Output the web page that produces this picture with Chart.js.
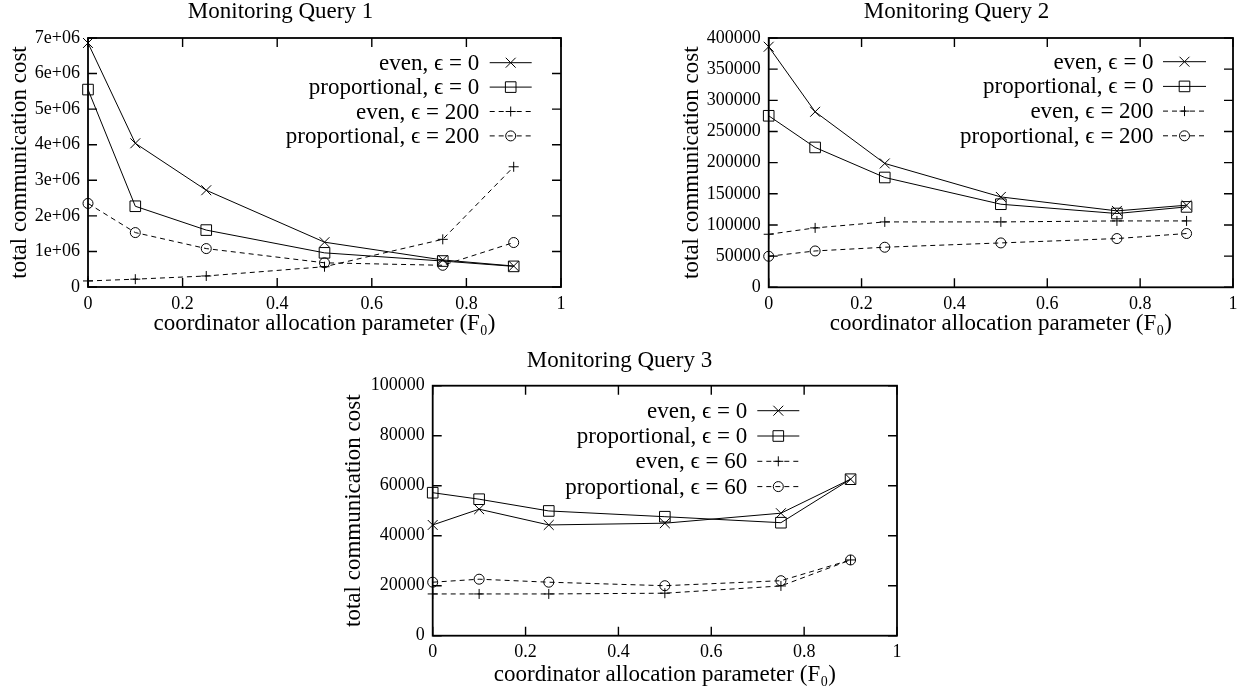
<!DOCTYPE html>
<html>
<head>
<meta charset="utf-8">
<script src="https://cdn.jsdelivr.net/npm/chart.js@4.4.1/dist/chart.umd.min.js"></script>
<style>
html, body { margin: 0; padding: 0; background: #ffffff; }
body { width: 1246px; height: 689px; position: relative; overflow: hidden; }
.box { position: absolute; }
</style>
</head>
<body>
<div class="box" id="b1" style="left:0px;top:0px;width:620px;height:345px;"><canvas id="c1"></canvas></div>
<div class="box" id="b2" style="left:680px;top:0px;width:566px;height:345px;"><canvas id="c2"></canvas></div>
<div class="box" id="b3" style="left:342px;top:340px;width:600px;height:349px;"><canvas id="c3"></canvas></div>
<script>
// ---------- data ----------
const xValues = [0, 0.1, 0.25, 0.5, 0.75, 0.9];
const xTickValues = [0, 0.2, 0.4, 0.6, 0.8, 1];

const q1Title = 'Monitoring Query 1';
const q1EvenEps0 = [6860000, 4040000, 2720000, 1260000, 760000, 590000];
const q1PropEps0 = [5550000, 2270000, 1600000, 960000, 730000, 580000];
const q1EvenEps200 = [170000, 220000, 310000, 570000, 1340000, 3380000];
const q1PropEps200 = [2350000, 1530000, 1080000, 680000, 610000, 1250000];
const q1Labels = ['even, \u03F5 = 0', 'proportional, \u03F5 = 0', 'even, \u03F5 = 200', 'proportional, \u03F5 = 200'];
const q1YTicks = [0, 1000000, 2000000, 3000000, 4000000, 5000000, 6000000, 7000000];

const q2Title = 'Monitoring Query 2';
const q2EvenEps0 = [386000, 281600, 198700, 145000, 122600, 131700];
const q2PropEps0 = [275200, 224400, 176200, 133300, 118400, 129000];
const q2EvenEps200 = [85100, 95300, 104900, 104900, 106500, 106500];
const q2PropEps200 = [49800, 58300, 64300, 71200, 78200, 86300];
const q2Labels = ['even, \u03F5 = 0', 'proportional, \u03F5 = 0', 'even, \u03F5 = 200', 'proportional, \u03F5 = 200'];
const q2YTicks = [0, 50000, 100000, 150000, 200000, 250000, 300000, 350000, 400000];

const q3Title = 'Monitoring Query 3';
const q3EvenEps0 = [44300, 50600, 44300, 45000, 49000, 62600];
const q3PropEps0 = [57200, 54600, 49900, 47600, 45200, 62600];
const q3EvenEps60 = [16700, 16700, 16700, 17000, 19900, 30300];
const q3PropEps60 = [21400, 22600, 21400, 20000, 22000, 30300];
const q3Labels = ['even, \u03F5 = 0', 'proportional, \u03F5 = 0', 'even, \u03F5 = 60', 'proportional, \u03F5 = 60'];
const q3YTicks = [0, 20000, 40000, 60000, 80000, 100000];

const xAxisTitle = 'coordinator allocation parameter (F\u2080)';
const yAxisTitle = 'total communication cost';

// ---------- styling ----------
const FONT = "'Liberation Serif', 'Times New Roman', serif";
const TXT = 23;
const TICK = 18;
const styles = [
  { pointStyle: 'crossRot', pointRadius: 7, dash: [] },
  { pointStyle: 'rect', pointRadius: 7.5, dash: [] },
  { pointStyle: 'cross', pointRadius: 5, dash: [5, 4] },
  { pointStyle: 'circle', pointRadius: 5, dash: [5, 4] }
];

function makeDatasets(labels, series) {
  return series.map((vals, i) => ({
    label: labels[i],
    data: xValues.map((x, j) => ({ x: x, y: vals[j] })),
    borderColor: '#000',
    backgroundColor: 'rgba(0,0,0,0)',
    borderWidth: 1,
    borderDash: styles[i].dash,
    pointStyle: styles[i].pointStyle,
    pointRadius: styles[i].pointRadius,
    pointHoverRadius: styles[i].pointRadius,
    pointBorderColor: '#000',
    pointBackgroundColor: 'rgba(0,0,0,0)',
    pointBorderWidth: 1,
    tension: 0,
    clip: false
  }));
}

// inward ticks + frame
const framePlugin = {
  id: 'frame',
  afterDatasetsDraw(chart) {
    const ctx = chart.ctx;
    const a = chart.chartArea;
    const xs = chart.scales.x, ys = chart.scales.y;
    const L = 9;
    ctx.save();
    ctx.strokeStyle = '#000';
    ctx.lineWidth = 1.4;
    ctx.setLineDash([]);
    ctx.beginPath();
    xs.ticks.forEach(t => {
      const px = xs.getPixelForValue(t.value);
      ctx.moveTo(px, a.bottom); ctx.lineTo(px, a.bottom - L);
      ctx.moveTo(px, a.top); ctx.lineTo(px, a.top + L);
    });
    ys.ticks.forEach(t => {
      const py = ys.getPixelForValue(t.value);
      ctx.moveTo(a.left, py); ctx.lineTo(a.left + L, py);
      ctx.moveTo(a.right, py); ctx.lineTo(a.right - L, py);
    });
    ctx.stroke();
    ctx.lineWidth = 1.8;
    ctx.strokeRect(a.left, a.top, a.right - a.left, a.bottom - a.top);
    ctx.restore();
  }
};

// gnuplot-style key: right-aligned text, sample line on the right
const keyPlugin = {
  id: 'gkey',
  afterDraw(chart, args, o) {
    const ctx = chart.ctx;
    const a = chart.chartArea;
    const sEnd = a.right - o.rightOffset;
    const sStart = sEnd - o.sampleLen;
    const tRight = sStart - o.gap;
    ctx.save();
    ctx.font = TXT + 'px ' + FONT;
    ctx.textAlign = 'right';
    ctx.textBaseline = 'middle';
    chart.data.datasets.forEach((ds, i) => {
      const y = a.top + o.firstRow + i * o.rowGap;
      ctx.fillStyle = '#000';
      ctx.fillText(ds.label, tRight, y + 1);
      ctx.strokeStyle = '#000';
      ctx.lineWidth = 1;
      ctx.setLineDash(ds.borderDash || []);
      ctx.beginPath();
      ctx.moveTo(sStart, y);
      ctx.lineTo(sEnd, y);
      ctx.stroke();
      ctx.setLineDash([]);
      ctx.fillStyle = 'rgba(0,0,0,0)';
      Chart.helpers.drawPoint(ctx, {
        pointStyle: ds.pointStyle,
        radius: ds.pointRadius,
        borderWidth: 1,
        rotation: 0
      }, (sStart + sEnd) / 2, y);
    });
    ctx.restore();
  }
};

function fmtX(v) { return String(Number(v.toFixed(1))); }

function makeChart(id, title, labels, series, yTicks, yFmt, geo) {
  const yMax = yTicks[yTicks.length - 1];
  const yStep = yTicks[1] - yTicks[0];
  return new Chart(document.getElementById(id), {
    type: 'line',
    data: { datasets: makeDatasets(labels, series) },
    plugins: [framePlugin, keyPlugin],
    options: {
      responsive: true,
      maintainAspectRatio: false,
      animation: false,
      events: [],
      layout: { padding: { left: 0, right: geo.padRight, top: 0, bottom: 0 } },
      plugins: {
        legend: { display: false },
        tooltip: { enabled: false },
        title: {
          display: true,
          text: title,
          color: '#000',
          font: { family: FONT, size: TXT, weight: 'normal', lineHeight: 1 },
          padding: { top: geo.titleTop, bottom: geo.titleBottom }
        },
        gkey: geo.key
      },
      scales: {
        x: {
          type: 'linear',
          min: 0, max: 1,
          afterBuildTicks(s) { s.ticks = xTickValues.map(v => ({ value: v })); },
          afterFit(s) { s.height = geo.xHeight; },
          grid: { display: false, drawTicks: false },
          border: { display: false },
          ticks: {
            color: '#000', padding: 6,
            font: { family: FONT, size: TICK },
            maxRotation: 0, autoSkip: false,
            callback: v => fmtX(v)
          },
          title: {
            display: true, text: xAxisTitle, color: '#000',
            font: { family: FONT, size: TXT, lineHeight: 1 },
            padding: { top: 0, bottom: geo.xTitleBottom }
          }
        },
        y: {
          type: 'linear',
          min: 0, max: yMax,
          afterBuildTicks(s) { s.ticks = yTicks.map(v => ({ value: v })); },
          afterFit(s) { s.width = geo.yWidth; },
          grid: { display: false, drawTicks: false },
          border: { display: false },
          ticks: {
            color: '#000', padding: 8, stepSize: yStep,
            font: { family: FONT, size: TICK },
            autoSkip: false,
            callback: v => yFmt(v)
          },
          title: {
            display: true, text: yAxisTitle, color: '#000',
            font: { family: FONT, size: TXT, lineHeight: 1 },
            padding: { top: geo.yTitleTop, bottom: 0 }
          }
        }
      }
    }
  });
}

const fmtE6 = v => v === 0 ? '0' : (Math.round(v / 1000000) + 'e+06');
const fmtPlain = v => String(v);

makeChart('c1', q1Title, q1Labels, [q1EvenEps0, q1PropEps0, q1EvenEps200, q1PropEps200], q1YTicks, fmtE6, {
  padRight: 59, titleTop: 0, titleBottom: 15, xHeight: 58, xTitleBottom: 9.5, yWidth: 88, yTitleTop: 8.5,
  key: { rightOffset: 29.3, sampleLen: 42, gap: 10.5, firstRow: 24.7, rowGap: 24.4 }
});
makeChart('c2', q2Title, q2Labels, [q2EvenEps0, q2PropEps0, q2EvenEps200, q2PropEps200], q2YTicks, fmtPlain, {
  padRight: 13, titleTop: 0, titleBottom: 15, xHeight: 57.7, xTitleBottom: 9.5, yWidth: 88.7, yTitleTop: 0.5,
  key: { rightOffset: 27, sampleLen: 43, gap: 9.4, firstRow: 23.7, rowGap: 24.7 }
});
makeChart('c3', q3Title, q3Labels, [q3EvenEps0, q3PropEps0, q3EvenEps60, q3PropEps60], q3YTicks, fmtPlain, {
  padRight: 45, titleTop: 9.5, titleBottom: 13.2, xHeight: 53.3, xTitleBottom: 3, yWidth: 90.7, yTitleTop: 0.5,
  key: { rightOffset: 97.7, sampleLen: 42, gap: 10, firstRow: 25, rowGap: 25.3 }
});
</script>
</body>
</html>
